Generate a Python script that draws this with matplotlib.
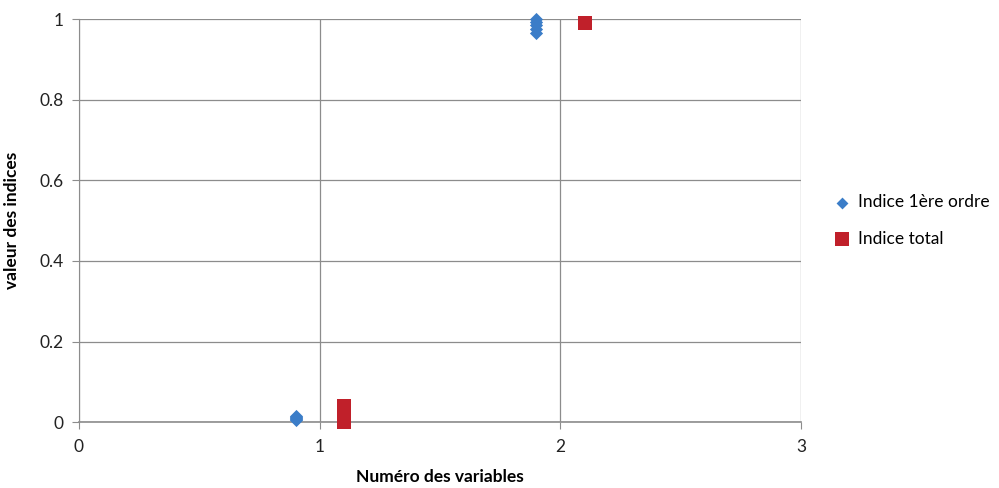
import matplotlib.pyplot as plt

# first-order indices (x slightly left of the variable number)
x_first = [0.9, 0.9, 0.9, 0.9, 0.9, 1.9, 1.9, 1.9, 1.9, 1.9]
y_first = [0.005, 0.008, 0.01, 0.012, 0.015, 0.965, 0.975, 0.985, 0.993, 1.0]

# total indices (x slightly right)
x_total = [1.1, 1.1, 1.1, 1.1, 1.1, 2.1]
y_total = [0.0, 0.01, 0.02, 0.03, 0.04, 0.99]

blue = "#3b7dc8"
red = "#c0202a"

plt.rcParams['font.family'] = ['Lato', 'DejaVu Sans']

fig = plt.figure(figsize=(9.99, 4.88), dpi=100)
ax = fig.add_axes([0.079, 0.135, 0.723, 0.826])

ax.scatter(x_first, y_first, marker="D", s=45, color=blue, label="Indice 1ère ordre",
           clip_on=False, zorder=3, linewidths=0)
ax.scatter(x_total, y_total, marker="s", s=110, color=red, label="Indice total",
           clip_on=False, zorder=3, linewidths=0)

ax.set_xlim(0, 3)
ax.set_ylim(0, 1)
ax.set_xticks([0, 1, 2, 3])
ax.set_xticklabels(["0", "1", "2", "3"])
ax.set_yticks([0, 0.2, 0.4, 0.6, 0.8, 1])
ax.set_yticklabels(["0", "0.2", "0.4", "0.6", "0.8", "1"])
ax.grid(True, color="#8c8c8c", linewidth=0.9)
ax.set_axisbelow(True)
for s in ["top", "right"]:
    ax.spines[s].set_visible(False)
ax.spines["left"].set_color("#8c8c8c")
ax.spines["bottom"].set_color("#8c8c8c")
ax.spines["bottom"].set_linewidth(1.2)
ax.tick_params(axis="both", colors="#8c8c8c", labelcolor="#222222", labelsize=12.5, length=5)
ax.tick_params(axis="x", pad=7)
ax.tick_params(axis="y", pad=6)

ax.set_xlabel("Numéro des variables", fontsize=12.5, fontweight="bold", labelpad=10)
ax.set_ylabel("valeur des indices", fontsize=12.5, fontweight="bold", labelpad=14)

ax.legend(loc="center left", bbox_to_anchor=(1.016, 0.5), frameon=False, fontsize=12.5,
          handletextpad=-0.1, labelspacing=1.2, markerscale=0.9, borderaxespad=0.3)

fig.savefig("out.png", dpi=100)
